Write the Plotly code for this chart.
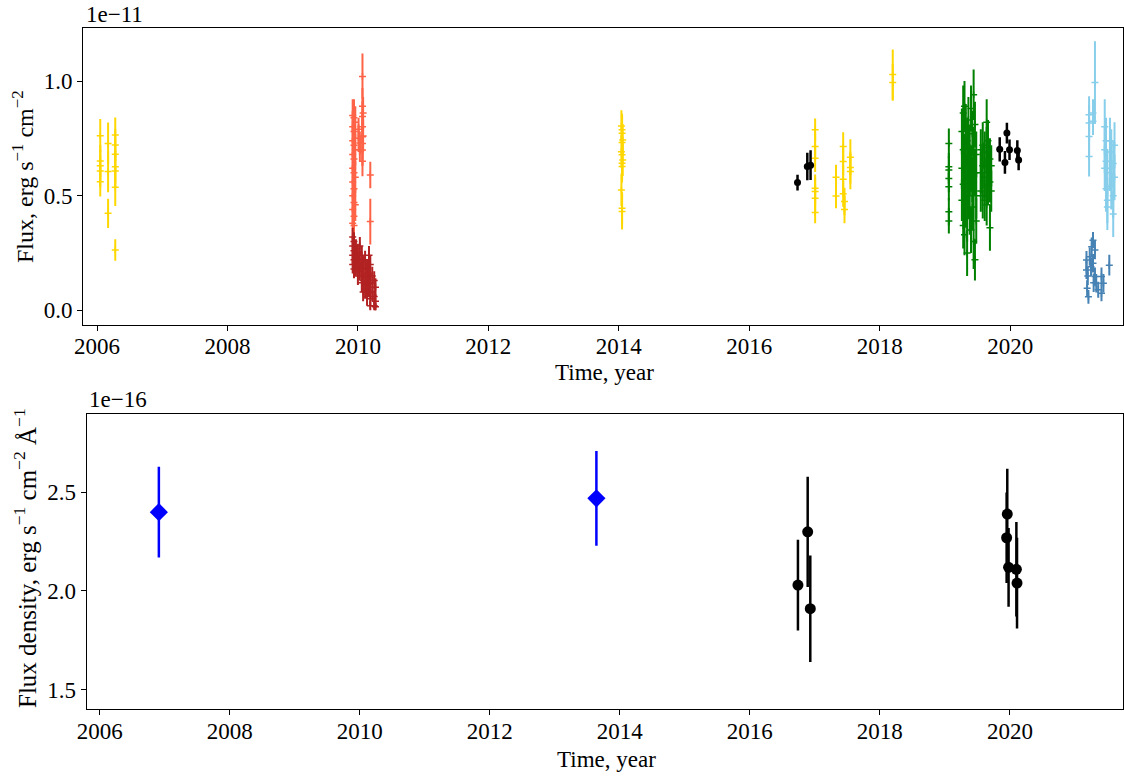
import plotly.graph_objects as go

W, H = 1124, 776
FONT = "Liberation Serif"

# ---------------- Top panel: X-ray flux, units of 1e-11 erg s^-1 cm^-2 ----------------
gold_t = [2006.05, 2006.05, 2006.05, 2006.05, 2006.05,
          2006.17, 2006.17, 2006.17,
          2006.28, 2006.28, 2006.28, 2006.28, 2006.28, 2006.28, 2006.28,
          2014.04, 2014.05, 2014.05, 2014.06, 2014.05, 2014.04, 2014.05, 2014.06, 2014.05, 2014.05, 2014.04, 2014.05, 2014.05,
          2017.01, 2017.01, 2017.01, 2017.01, 2017.01, 2017.01, 2017.01,
          2017.33, 2017.33,
          2017.44, 2017.44, 2017.44, 2017.44,
          2017.46, 2017.46,
          2017.55, 2017.55, 2017.55,
          2018.20, 2018.20]
gold_f = [0.761, 0.651, 0.630, 0.607, 0.561,
          0.728, 0.605, 0.423,
          0.765, 0.721, 0.681, 0.626, 0.608, 0.537, 0.263,
          0.804, 0.787, 0.772, 0.743, 0.732, 0.692, 0.678, 0.656, 0.641, 0.627, 0.525, 0.445, 0.431,
          0.787, 0.714, 0.663, 0.532, 0.518, 0.489, 0.426,
          0.580, 0.498,
          0.714, 0.649, 0.572, 0.508,
          0.474, 0.440,
          0.668, 0.623, 0.605,
          1.028, 0.994]
gold_e = [0.073, 0.070, 0.070, 0.070, 0.065,
          0.091, 0.090, 0.064,
          0.076, 0.070, 0.070, 0.070, 0.070, 0.082, 0.047,
          0.068, 0.070, 0.070, 0.070, 0.070, 0.070, 0.070, 0.070, 0.070, 0.070, 0.070, 0.070, 0.079,
          0.050, 0.060, 0.060, 0.060, 0.060, 0.060, 0.046,
          0.055, 0.053,
          0.063, 0.060, 0.060, 0.056,
          0.060, 0.060,
          0.078, 0.070, 0.077,
          0.109, 0.080]

tomato_t = [2009.92, 2009.92, 2009.92, 2009.92, 2009.92, 2009.92, 2009.92, 2009.92, 2009.92,
            2009.94, 2009.94, 2009.94, 2009.94, 2009.94, 2009.94, 2009.94, 2009.94, 2009.94,
            2009.96, 2009.96, 2009.96, 2009.96,
            2010.01, 2010.01, 2010.03, 2010.03,
            2010.07, 2010.07, 2010.07, 2010.07, 2010.07, 2010.07, 2010.07, 2010.07,
            2010.08, 2010.08,
            2010.19, 2010.19]
tomato_f = [0.85, 0.80, 0.74, 0.68, 0.62, 0.56, 0.50, 0.44, 0.38,
            0.84, 0.78, 0.72, 0.66, 0.60, 0.53, 0.47, 0.41, 0.37,
            0.82, 0.70, 0.58, 0.46,
            0.79, 0.75, 0.73, 0.70,
            1.02, 0.89, 0.845, 0.80, 0.757, 0.728, 0.699, 0.65,
            0.86, 0.76,
            0.59, 0.387]
tomato_e = [0.07, 0.07, 0.07, 0.07, 0.07, 0.07, 0.07, 0.07, 0.07,
            0.08, 0.07, 0.07, 0.07, 0.07, 0.07, 0.07, 0.07, 0.07,
            0.07, 0.07, 0.07, 0.07,
            0.05, 0.06, 0.05, 0.05,
            0.10, 0.08, 0.07, 0.07, 0.07, 0.07, 0.07, 0.065,
            0.07, 0.07,
            0.058, 0.10]

firebrick_t = [2009.92, 2009.92, 2009.92, 2009.92,
               2009.94, 2009.94, 2009.94, 2009.94,
               2009.97, 2009.97, 2009.97,
               2010.00, 2010.00, 2010.00,
               2010.03, 2010.03, 2010.03,
               2010.06, 2010.06, 2010.06,
               2010.08, 2010.08, 2010.08,
               2010.11, 2010.11, 2010.11,
               2010.14, 2010.14, 2010.14,
               2010.17, 2010.17, 2010.17,
               2010.19, 2010.19, 2010.19, 2010.19,
               2010.22, 2010.22,
               2010.25, 2010.25, 2010.25,
               2010.27, 2010.27, 2010.27]
firebrick_f = [0.32, 0.28, 0.24, 0.20,
               0.30, 0.26, 0.22, 0.18,
               0.27, 0.23, 0.19,
               0.25, 0.20, 0.15,
               0.28, 0.22, 0.17,
               0.24, 0.18, 0.12,
               0.20, 0.13, 0.08,
               0.22, 0.15, 0.09,
               0.18, 0.11, 0.06,
               0.24, 0.16, 0.10,
               0.20, 0.12, 0.05, 0.02,
               0.15, 0.08,
               0.13, 0.06, 0.02,
               0.10, 0.04, 0.015]
firebrick_e = [0.04, 0.04, 0.04, 0.04,
               0.04, 0.04, 0.04, 0.04,
               0.04, 0.04, 0.04,
               0.04, 0.04, 0.04,
               0.04, 0.04, 0.04,
               0.04, 0.04, 0.04,
               0.04, 0.04, 0.04,
               0.04, 0.04, 0.04,
               0.04, 0.04, 0.04,
               0.04, 0.04, 0.04,
               0.04, 0.04, 0.03, 0.02,
               0.04, 0.04,
               0.04, 0.03, 0.02,
               0.04, 0.03, 0.015]

green_t = [2019.06, 2019.06, 2019.06, 2019.06, 2019.06, 2019.06, 2019.06,
           2019.26, 2019.26, 2019.26,
           2019.28, 2019.28, 2019.28, 2019.28,
           2019.30, 2019.30, 2019.30, 2019.30,
           2019.32, 2019.32, 2019.32,
           2019.34, 2019.34, 2019.34, 2019.34,
           2019.36, 2019.36, 2019.36,
           2019.38, 2019.38, 2019.38,
           2019.40, 2019.40, 2019.40,
           2019.42, 2019.42, 2019.42,
           2019.44, 2019.44, 2019.44, 2019.44,
           2019.46, 2019.46, 2019.46,
           2019.48, 2019.48, 2019.48,
           2019.55, 2019.55, 2019.55,
           2019.58, 2019.58, 2019.58,
           2019.61, 2019.61, 2019.61,
           2019.64, 2019.64, 2019.64, 2019.64,
           2019.66, 2019.66, 2019.66,
           2019.69, 2019.69, 2019.69,
           2019.71, 2019.71]
green_f = [0.728, 0.626, 0.612, 0.575, 0.539, 0.430, 0.390,
           0.78, 0.62, 0.48,
           0.86, 0.70, 0.55, 0.37,
           0.89, 0.67, 0.52, 0.33,
           0.80, 0.64, 0.46,
           0.74, 0.58, 0.40, 0.25,
           0.83, 0.66, 0.50,
           0.71, 0.60, 0.43,
           0.88, 0.62, 0.35,
           0.77, 0.57, 0.45,
           0.94, 0.70, 0.52, 0.30,
           0.81, 0.60, 0.22,
           0.68, 0.50, 0.39,
           0.70, 0.60, 0.52,
           0.72, 0.63, 0.50,
           0.69, 0.58, 0.48,
           0.82, 0.71, 0.60, 0.46,
           0.74, 0.65, 0.55,
           0.66, 0.56, 0.36,
           0.63, 0.52]
green_e = [0.065, 0.060, 0.060, 0.060, 0.060, 0.060, 0.055,
           0.10, 0.09, 0.09,
           0.12, 0.10, 0.09, 0.10,
           0.11, 0.10, 0.10, 0.09,
           0.10, 0.10, 0.10,
           0.10, 0.10, 0.10, 0.10,
           0.10, 0.10, 0.10,
           0.10, 0.10, 0.10,
           0.10, 0.10, 0.10,
           0.10, 0.10, 0.10,
           0.11, 0.10, 0.10, 0.12,
           0.10, 0.10, 0.09,
           0.10, 0.10, 0.10,
           0.09, 0.09, 0.09,
           0.10, 0.10, 0.10,
           0.09, 0.09, 0.09,
           0.10, 0.09, 0.09, 0.09,
           0.09, 0.09, 0.09,
           0.09, 0.09, 0.10,
           0.09, 0.09]

skyblue_t = [2021.21, 2021.21, 2021.21, 2021.21,
             2021.27, 2021.27,
             2021.30,
             2021.45, 2021.45, 2021.45,
             2021.47, 2021.47, 2021.47,
             2021.49, 2021.49, 2021.49,
             2021.53, 2021.53,
             2021.55, 2021.55,
             2021.58, 2021.58, 2021.58,
             2021.60, 2021.60]
skyblue_f = [0.853, 0.817, 0.758, 0.671,
             0.860, 0.824,
             0.993,
             0.80, 0.70, 0.62,
             0.74, 0.65, 0.53,
             0.60, 0.48, 0.45,
             0.74, 0.62,
             0.69, 0.54,
             0.64, 0.50, 0.42,
             0.72, 0.58]
skyblue_e = [0.080, 0.080, 0.080, 0.088,
             0.060, 0.060,
             0.180,
             0.12, 0.10, 0.10,
             0.10, 0.10, 0.10,
             0.10, 0.10, 0.10,
             0.10, 0.10,
             0.10, 0.10,
             0.10, 0.10, 0.10,
             0.10, 0.10]

steelblue_t = [2021.17, 2021.17, 2021.18, 2021.19, 2021.20, 2021.22, 2021.24, 2021.25,
               2021.27, 2021.27, 2021.28, 2021.30, 2021.30, 2021.32, 2021.35,
               2021.40, 2021.40, 2021.43, 2021.52]
steelblue_f = [0.219, 0.176, 0.096, 0.150, 0.059, 0.234, 0.190, 0.277,
               0.306, 0.205, 0.120, 0.263, 0.147, 0.118, 0.090,
               0.147, 0.074, 0.118, 0.197]
steelblue_e = [0.040, 0.040, 0.035, 0.040, 0.030, 0.040, 0.040, 0.040,
               0.035, 0.040, 0.040, 0.040, 0.040, 0.040, 0.035,
               0.040, 0.035, 0.040, 0.045]

black_top_t = [2016.74, 2016.89, 2016.94, 2019.84, 2019.92, 2019.95, 2019.99, 2020.11, 2020.13]
black_top_f = [0.557, 0.627, 0.633, 0.702, 0.645, 0.773, 0.700, 0.697, 0.656]
black_top_e = [0.034, 0.060, 0.065, 0.053, 0.050, 0.045, 0.045, 0.045, 0.045]

# ---------------- Bottom panel: flux density, units of 1e-16 erg s^-1 cm^-2 A^-1 ----------------
blue_t = [2006.91, 2013.64]
blue_f = [2.40, 2.47]
blue_e = [0.23, 0.24]

black_bot_t = [2016.74, 2016.89, 2016.93, 2019.96, 2019.95, 2019.98, 2020.10, 2020.11]
black_bot_f = [2.03, 2.30, 1.91, 2.39, 2.27, 2.12, 2.11, 2.04]
black_bot_e = [0.23, 0.28, 0.27, 0.23, 0.23, 0.20, 0.24, 0.23]

x_ticks = [2006, 2008, 2010, 2012, 2014, 2016, 2018, 2020]
top_y_ticks = [0.0, 0.5, 1.0]
bot_y_ticks = [1.5, 2.0, 2.5]


def px_x(p):
    return p / W


def px_y(p):
    return 1 - p / H


fig = go.Figure()


def plus_trace(t, f, e, color, xa, ya, ew=2.0):
    return go.Scatter(
        x=t, y=f, mode="markers", xaxis=xa, yaxis=ya,
        marker=dict(symbol="cross-thin", size=5, color=color,
                    line=dict(color=color, width=1.5)),
        error_y=dict(type="data", array=e, thickness=ew, width=0, color=color),
        showlegend=False, hoverinfo="skip")


fig.add_trace(plus_trace(gold_t, gold_f, gold_e, "#FFD700", "x", "y"))
fig.add_trace(plus_trace(tomato_t, tomato_f, tomato_e, "#FF6347", "x", "y"))
fig.add_trace(plus_trace(firebrick_t, firebrick_f, firebrick_e, "#B22222", "x", "y"))
fig.add_trace(plus_trace(green_t, green_f, green_e, "#008000", "x", "y"))
fig.add_trace(plus_trace(skyblue_t, skyblue_f, skyblue_e, "#87CEEB", "x", "y"))
fig.add_trace(plus_trace(steelblue_t, steelblue_f, steelblue_e, "#4682B4", "x", "y"))
fig.add_trace(go.Scatter(
    x=black_top_t, y=black_top_f, mode="markers", xaxis="x", yaxis="y",
    marker=dict(symbol="circle", size=7, color="black"),
    error_y=dict(type="data", array=black_top_e, thickness=2.5, width=0, color="black"),
    showlegend=False, hoverinfo="skip"))

fig.add_trace(go.Scatter(
    x=blue_t, y=blue_f, mode="markers", xaxis="x2", yaxis="y2",
    marker=dict(symbol="diamond", size=14, color="#0000FF"),
    error_y=dict(type="data", array=blue_e, thickness=2.5, width=0, color="#0000FF"),
    showlegend=False, hoverinfo="skip"))
fig.add_trace(go.Scatter(
    x=black_bot_t, y=black_bot_f, mode="markers", xaxis="x2", yaxis="y2",
    marker=dict(symbol="circle", size=11, color="black"),
    error_y=dict(type="data", array=black_bot_e, thickness=2.5, width=0, color="black"),
    showlegend=False, hoverinfo="skip"))

tickfont = dict(family=FONT, size=23, color="black")
axis_common = dict(showgrid=False, zeroline=False, showline=True, mirror=True,
                   linecolor="black", linewidth=1.2, ticks="outside", ticklen=5,
                   tickwidth=1.2, tickcolor="black", tickfont=tickfont, automargin=False)

fig.update_layout(
    width=W, height=H, autosize=False,
    margin=dict(l=0, r=0, t=0, b=0, pad=0),
    paper_bgcolor="white", plot_bgcolor="white",
    xaxis=dict(domain=[px_x(83.3), px_x(1123)], range=[2005.79, 2021.73], anchor="y",
               tickvals=x_ticks, ticktext=[str(v) for v in x_ticks],
               ticklabelstandoff=-4, **axis_common),
    yaxis=dict(domain=[px_y(324.7), px_y(27.7)], range=[-0.0628, 1.2325], anchor="x",
               tickvals=top_y_ticks, tickformat=".1f", **axis_common),
    xaxis2=dict(domain=[px_x(86.7), px_x(1123)], range=[2005.80, 2021.74], anchor="y2",
                tickvals=x_ticks, ticktext=[str(v) for v in x_ticks],
                ticklabelstandoff=-4, **axis_common),
    yaxis2=dict(domain=[px_y(709.3), px_y(414)], range=[1.3995, 2.898], anchor="x2",
                tickvals=bot_y_ticks, tickformat=".1f", **axis_common),
)

ann_font = dict(family=FONT, size=23, color="black")
title_font = dict(family=FONT, size=24, color="black")
annotations = [
    dict(text="1e\u221211", x=px_x(84), y=px_y(14), xanchor="left", yanchor="middle", font=ann_font),
    dict(text="1e\u221216", x=px_x(87), y=px_y(400), xanchor="left", yanchor="middle", font=ann_font),
    dict(text="Time, year", x=px_x(604), y=px_y(372), xanchor="center", yanchor="middle", font=ann_font),
    dict(text="Time, year", x=px_x(606), y=px_y(759), xanchor="center", yanchor="middle", font=ann_font),
    dict(text="Flux, erg s<sup>\u22121</sup> cm<sup>\u22122</sup>", x=px_x(23), y=px_y(177),
         xanchor="center", yanchor="middle", textangle=-90, font=title_font),
    dict(text="Flux density, erg s<sup>\u22121</sup> cm<sup>\u22122</sup> \u00c5<sup>\u22121</sup>",
         x=px_x(25), y=px_y(558), xanchor="center", yanchor="middle", textangle=-90,
         font=dict(family=FONT, size=25, color="black")),
]
for a in annotations:
    a.update(xref="paper", yref="paper", showarrow=False)
fig.update_layout(annotations=annotations)

fig.write_html("out.html", config={"displayModeBar": False},
               post_script="document.body.style.margin='0px';")
